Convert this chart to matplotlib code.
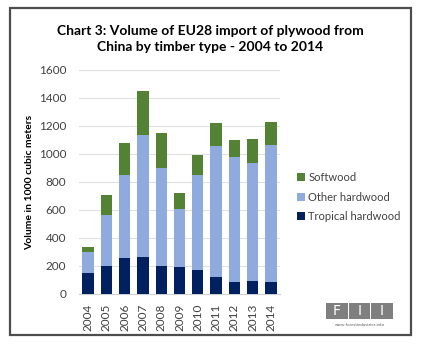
import matplotlib
matplotlib.use("Agg")
import matplotlib.pyplot as plt
from matplotlib.patches import Rectangle

years = ["2004", "2005", "2006", "2007", "2008", "2009", "2010", "2011", "2012", "2013", "2014"]
tropical = [150, 202, 254, 266, 202, 190, 171, 124, 83, 95, 86]
other_totals = [297, 566, 847, 1139, 897, 609, 847, 1058, 977, 937, 1065]
totals = [333, 704, 1082, 1451, 1153, 721, 994, 1222, 1099, 1108, 1227]
other = [o - t for o, t in zip(other_totals, tropical)]
softwood = [s - o for s, o in zip(totals, other_totals)]
yticks = [0, 200, 400, 600, 800, 1000, 1200, 1400, 1600]

c_trop = "#002060"
c_other = "#8FAADC"
c_soft = "#548235"

plt.rcParams['font.family'] = ['Lato', 'DejaVu Sans']

W, H = 425, 348
fig = plt.figure(figsize=(W / 100, H / 100), dpi=100)

# outer border
fig.patches.append(Rectangle((10 / W, 1 - 335 / H), 401 / W, 327 / H, transform=fig.transFigure,
                             fill=False, edgecolor="#4d4d4d", linewidth=1.6))

fig.text(210 / W, 1 - 31 / H, "Chart 3: Volume of EU28 import of plywood from",
         ha="center", va="center", fontsize=10, fontweight="bold", color="black")
fig.text(210 / W, 1 - 47 / H, "China by timber type - 2004 to 2014",
         ha="center", va="center", fontsize=10, fontweight="bold", color="black")

ax = fig.add_axes([79 / W, 1 - 294 / H, 201 / W, 224 / H])
x = range(len(years))
bw = 0.62
b1 = ax.bar(x, tropical, bw, color=c_trop, label="Tropical hardwood", zorder=3)
b2 = ax.bar(x, other, bw, bottom=tropical, color=c_other, label="Other hardwood", zorder=3)
b3 = ax.bar(x, softwood, bw, bottom=other_totals, color=c_soft, label="Softwood", zorder=3)

ax.set_xlim(-0.5, len(years) - 0.5)
ax.set_ylim(0, 1600)
ax.set_yticks(yticks)
ax.set_yticklabels([str(v) for v in yticks], fontsize=8.5, color="#404040")
ax.set_xticks(list(x))
ax.set_xticklabels(years, rotation=90, fontsize=8.5, color="#404040")
ax.tick_params(axis="y", length=0, pad=9)
ax.tick_params(axis="x", length=0, pad=7)
ax.grid(axis="y", color="#e0e0e0", linewidth=0.8, zorder=0)
for s in ["top", "right", "left"]:
    ax.spines[s].set_visible(False)
ax.spines["bottom"].set_color("#d0d0d0")
ax.set_ylabel("Volume in 1000 cubic meters", fontsize=7.5, fontweight="bold")
ax.yaxis.set_label_coords(-0.225, 0.5)

leg = fig.legend([b3, b2, b1], ["Softwood", "Other hardwood", "Tropical hardwood"],
                 loc="center left", bbox_to_anchor=(297 / W, 1 - 197 / H), frameon=False,
                 fontsize=8, handlelength=0.7, handleheight=0.7, handletextpad=0.3,
                 labelspacing=0.75, borderaxespad=0, borderpad=0)
for t in leg.get_texts():
    t.set_color("#404040")

# FII logo
bx0, by0, bh = 326, 303, 16
for i, letter in enumerate(["F", "I", "I"]):
    x0 = bx0 + i * 22.7
    fig.patches.append(Rectangle((x0 / W, 1 - (by0 + bh) / H), 21.5 / W, bh / H,
                                 transform=fig.transFigure, facecolor="#7f7f7f", edgecolor="none"))
    fig.text((x0 + 10.7) / W, 1 - (by0 + bh / 2) / H, letter, ha="center", va="center",
             fontsize=10, color="white", family="DejaVu Sans")
fig.text(359.5 / W, 1 - 325 / H, "www.forestindustries.info", ha="center", va="center",
         fontsize=3.2, color="#606060")

fig.savefig("out.png", dpi=100)
